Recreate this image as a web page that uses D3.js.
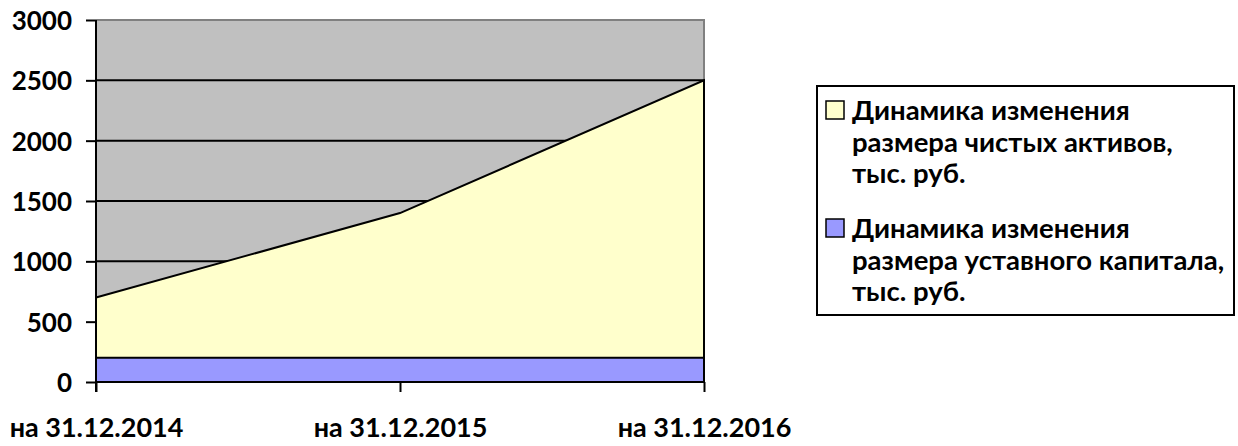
<!DOCTYPE html>
<html>
<head>
<meta charset="utf-8">
<script src="https://cdn.jsdelivr.net/npm/d3@7"></script>
<style>
  body { margin: 0; background: #fff; }
  text { font-family: Lato, "Open Sans", sans-serif; font-weight: bold; fill: #000; }
</style>
</head>
<body>
<svg id="chart"></svg>
<script>
const categories = ["на 31.12.2014", "на 31.12.2015", "на 31.12.2016"];
const netAssets = [700, 1400, 2500];
const charterCapital = [200, 200, 200];
const yTicks = [0, 500, 1000, 1500, 2000, 2500, 3000];
const seriesNames = [
    ["Динамика изменения", "размера чистых активов,", "тыс. руб."],
    ["Динамика изменения", "размера уставного капитала,", "тыс. руб."]
];
const seriesColors = ["#FFFFCC", "#9999FF"];

const WIDTH = 1238, HEIGHT = 446;
const PLOT = { left: 96, right: 704, top: 20, bottom: 382 };

const SVG = d3.select("#chart").attr("width", WIDTH).attr("height", HEIGHT);

const xScale = d3.scalePoint().domain(categories).range([PLOT.left, PLOT.right]);
const yScale = d3.scaleLinear().domain([0, 3000]).range([PLOT.bottom, PLOT.top]);

// plot background
SVG.append("rect")
    .attr("x", PLOT.left).attr("y", PLOT.top)
    .attr("width", PLOT.right - PLOT.left).attr("height", PLOT.bottom - PLOT.top)
    .attr("fill", "#C0C0C0");
// grey border top + right
SVG.append("path")
    .attr("d", `M${PLOT.left},${PLOT.top}H${PLOT.right}V${PLOT.bottom}`)
    .attr("fill", "none").attr("stroke", "#808080").attr("stroke-width", 2);

// gridlines
SVG.append("g")
    .selectAll("line")
    .data(yTicks.filter(d => d > 0 && d < 3000))
    .enter()
    .append("line")
    .attr("x1", PLOT.left).attr("x2", PLOT.right)
    .attr("y1", d => yScale(d)).attr("y2", d => yScale(d))
    .attr("stroke", "#000").attr("stroke-width", 2);

const area = d3.area()
    .x((d, i) => xScale(categories[i]))
    .y0(yScale(0))
    .y1(d => yScale(d));

[netAssets, charterCapital].forEach((vals, k) => {
    SVG.append("path")
        .datum(vals)
        .attr("d", area)
        .attr("fill", seriesColors[k])
        .attr("stroke", "#000")
        .attr("stroke-width", 2)
        .attr("stroke-linejoin", "miter");
});

// axes
const yAxis = d3.axisLeft(yScale).tickValues(yTicks).tickFormat(d3.format("d")).tickSize(10).tickPadding(14);
const xAxis = d3.axisBottom(xScale).tickSize(10).tickPadding(26);

const gy = SVG.append("g").attr("transform", `translate(${PLOT.left},0)`).call(yAxis);
gy.select(".domain").attr("stroke", "#000").attr("stroke-width", 2)
    .attr("d", `M0,${PLOT.top}V${PLOT.bottom + 10}`);
gy.selectAll(".tick line").attr("stroke", "#000").attr("stroke-width", 2);
gy.selectAll(".tick text").attr("font-size", "26px").attr("dy", "0.36em")
    .style("font-family", "Lato, sans-serif").style("font-weight", "bold");

const gx = SVG.append("g").attr("transform", `translate(0,${PLOT.bottom})`).call(xAxis);
gx.select(".domain").attr("stroke", "#000").attr("stroke-width", 2)
    .attr("d", `M${PLOT.left},0H${PLOT.right}`);
gx.selectAll(".tick line").attr("stroke", "#000").attr("stroke-width", 2);
gx.selectAll(".tick text").attr("font-size", "27px")
    .style("font-family", "Lato, sans-serif").style("font-weight", "bold");

// legend
const LEG = { x: 817, y: 86, w: 417, h: 229 };
SVG.append("rect")
    .attr("x", LEG.x).attr("y", LEG.y).attr("width", LEG.w).attr("height", LEG.h)
    .attr("fill", "#fff").attr("stroke", "#000").attr("stroke-width", 2);

const lineH = 31.5;
seriesNames.forEach((lines, k) => {
    const base = 120 + k * 118;
    SVG.append("rect")
        .attr("x", 826).attr("y", base - 19).attr("width", 18).attr("height", 18)
        .attr("fill", seriesColors[k]).attr("stroke", "#000").attr("stroke-width", 1.5);
    lines.forEach((t, j) => {
        SVG.append("text")
            .attr("x", 852).attr("y", base + j * lineH)
            .attr("font-size", "27.5px")
            .text(t);
    });
});
</script>
</body>
</html>
